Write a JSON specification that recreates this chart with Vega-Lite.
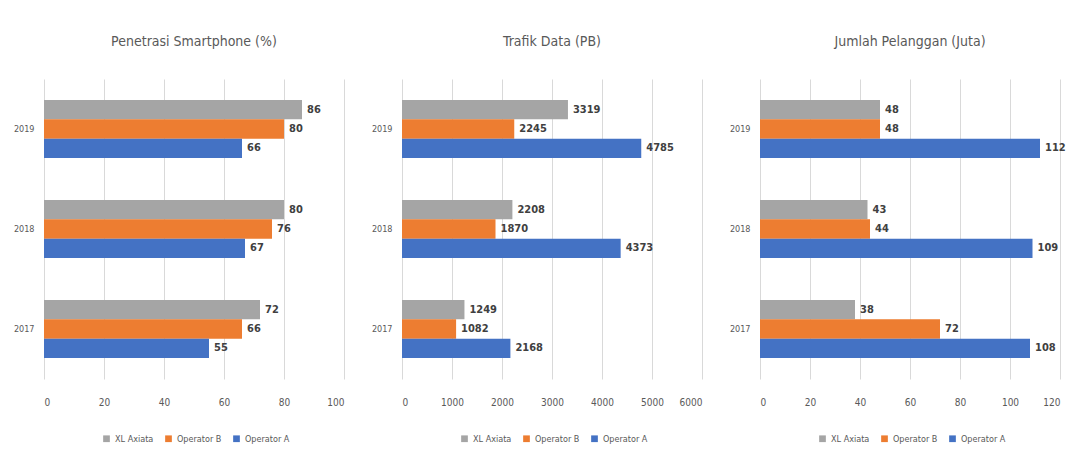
{
  "$schema": "https://vega.github.io/schema/vega-lite/v6.json",
  "background": "white",
  "autosize": {"type": "pad"},
  "padding": {"left": 13, "top": 35, "right": 5, "bottom": 5},
  "datasets": {
    "rows": [
      {"metric": "smartphone", "year": "2019", "operator": "XL Axiata", "value": 86},
      {"metric": "smartphone", "year": "2019", "operator": "Operator B", "value": 80},
      {"metric": "smartphone", "year": "2019", "operator": "Operator A", "value": 66},
      {"metric": "smartphone", "year": "2018", "operator": "XL Axiata", "value": 80},
      {"metric": "smartphone", "year": "2018", "operator": "Operator B", "value": 76},
      {"metric": "smartphone", "year": "2018", "operator": "Operator A", "value": 67},
      {"metric": "smartphone", "year": "2017", "operator": "XL Axiata", "value": 72},
      {"metric": "smartphone", "year": "2017", "operator": "Operator B", "value": 66},
      {"metric": "smartphone", "year": "2017", "operator": "Operator A", "value": 55},
      {"metric": "traffic", "year": "2019", "operator": "XL Axiata", "value": 3319},
      {"metric": "traffic", "year": "2019", "operator": "Operator B", "value": 2245},
      {"metric": "traffic", "year": "2019", "operator": "Operator A", "value": 4785},
      {"metric": "traffic", "year": "2018", "operator": "XL Axiata", "value": 2208},
      {"metric": "traffic", "year": "2018", "operator": "Operator B", "value": 1870},
      {"metric": "traffic", "year": "2018", "operator": "Operator A", "value": 4373},
      {"metric": "traffic", "year": "2017", "operator": "XL Axiata", "value": 1249},
      {"metric": "traffic", "year": "2017", "operator": "Operator B", "value": 1082},
      {"metric": "traffic", "year": "2017", "operator": "Operator A", "value": 2168},
      {"metric": "subscribers", "year": "2019", "operator": "XL Axiata", "value": 48},
      {"metric": "subscribers", "year": "2019", "operator": "Operator B", "value": 48},
      {"metric": "subscribers", "year": "2019", "operator": "Operator A", "value": 112},
      {"metric": "subscribers", "year": "2018", "operator": "XL Axiata", "value": 43},
      {"metric": "subscribers", "year": "2018", "operator": "Operator B", "value": 44},
      {"metric": "subscribers", "year": "2018", "operator": "Operator A", "value": 109},
      {"metric": "subscribers", "year": "2017", "operator": "XL Axiata", "value": 38},
      {"metric": "subscribers", "year": "2017", "operator": "Operator B", "value": 72},
      {"metric": "subscribers", "year": "2017", "operator": "Operator A", "value": 108}
    ]
  },
  "spacing": 27,
  "hconcat": [
    {
      "width": 300,
      "height": 300,
      "title": "Penetrasi Smartphone (%)",
      "data": {"name": "rows"},
      "transform": [{"filter": "datum.metric === 'smartphone'"}],
      "encoding": {
        "y": {"field": "year", "type": "nominal", "sort": ["2019", "2018", "2017"], "scale": {"paddingInner": 0.42, "paddingOuter": 0.21}, "title": null},
        "yOffset": {"field": "operator", "type": "nominal", "sort": ["XL Axiata", "Operator B", "Operator A"]},
        "x": {"field": "value", "type": "quantitative", "scale": {"domain": [0, 100]}, "axis": {"values": [0, 20, 40, 60, 80, 100]}, "title": null}
      },
      "layer": [
        {
          "mark": {"type": "bar"},
          "encoding": {
            "color": {"field": "operator", "type": "nominal", "scale": {"domain": ["XL Axiata", "Operator B", "Operator A"], "range": ["#a5a5a5", "#ed7d31", "#4472c4"]}, "title": null}
          }
        },
        {
          "mark": {"type": "text", "align": "left", "baseline": "middle", "dx": 5, "fontWeight": "bold", "fontSize": 11, "color": "#404040"},
          "encoding": {"text": {"field": "value", "type": "quantitative"}}
        }
      ]
    },
    {
      "width": 300,
      "height": 300,
      "title": "Trafik Data (PB)",
      "data": {"name": "rows"},
      "transform": [{"filter": "datum.metric === 'traffic'"}],
      "encoding": {
        "y": {"field": "year", "type": "nominal", "sort": ["2019", "2018", "2017"], "scale": {"paddingInner": 0.42, "paddingOuter": 0.21}, "title": null},
        "yOffset": {"field": "operator", "type": "nominal", "sort": ["XL Axiata", "Operator B", "Operator A"]},
        "x": {"field": "value", "type": "quantitative", "scale": {"domain": [0, 6000]}, "axis": {"values": [0, 1000, 2000, 3000, 4000, 5000, 6000], "format": "d"}, "title": null}
      },
      "layer": [
        {
          "mark": {"type": "bar"},
          "encoding": {
            "color": {"field": "operator", "type": "nominal", "scale": {"domain": ["XL Axiata", "Operator B", "Operator A"], "range": ["#a5a5a5", "#ed7d31", "#4472c4"]}, "title": null}
          }
        },
        {
          "mark": {"type": "text", "align": "left", "baseline": "middle", "dx": 5, "fontWeight": "bold", "fontSize": 11, "color": "#404040"},
          "encoding": {"text": {"field": "value", "type": "quantitative", "format": "d"}}
        }
      ]
    },
    {
      "width": 300,
      "height": 300,
      "title": "Jumlah Pelanggan (Juta)",
      "data": {"name": "rows"},
      "transform": [{"filter": "datum.metric === 'subscribers'"}],
      "encoding": {
        "y": {"field": "year", "type": "nominal", "sort": ["2019", "2018", "2017"], "scale": {"paddingInner": 0.42, "paddingOuter": 0.21}, "title": null},
        "yOffset": {"field": "operator", "type": "nominal", "sort": ["XL Axiata", "Operator B", "Operator A"]},
        "x": {"field": "value", "type": "quantitative", "scale": {"domain": [0, 120]}, "axis": {"values": [0, 20, 40, 60, 80, 100, 120]}, "title": null}
      },
      "layer": [
        {
          "mark": {"type": "bar"},
          "encoding": {
            "color": {"field": "operator", "type": "nominal", "scale": {"domain": ["XL Axiata", "Operator B", "Operator A"], "range": ["#a5a5a5", "#ed7d31", "#4472c4"]}, "title": null}
          }
        },
        {
          "mark": {"type": "text", "align": "left", "baseline": "middle", "dx": 5, "fontWeight": "bold", "fontSize": 11, "color": "#404040"},
          "encoding": {"text": {"field": "value", "type": "quantitative"}}
        }
      ]
    }
  ],
  "resolve": {
    "scale": {"x": "independent", "color": "independent"},
    "legend": {"color": "independent"}
  },
  "config": {
    "font": "DejaVu Sans Condensed, Liberation Sans Narrow, Liberation Sans, sans-serif",
    "view": {"stroke": null},
    "title": {"fontSize": 14, "fontWeight": "normal", "color": "#595959", "offset": 30, "anchor": "middle"},
    "axisX": {"domain": false, "ticks": false, "grid": true, "gridColor": "#d9d9d9", "labelColor": "#595959", "labelFontSize": 10, "labelPadding": 18},
    "axisY": {"domain": false, "ticks": false, "grid": false, "labelColor": "#595959", "labelFontSize": 9, "labelPadding": 10, "minExtent": 30, "maxExtent": 30},
    "legend": {"orient": "none", "legendX": 58, "legendY": 355, "direction": "horizontal", "symbolType": "square", "symbolSize": 45, "labelFontSize": 9, "labelColor": "#595959", "columnPadding": 10}
  }
}
